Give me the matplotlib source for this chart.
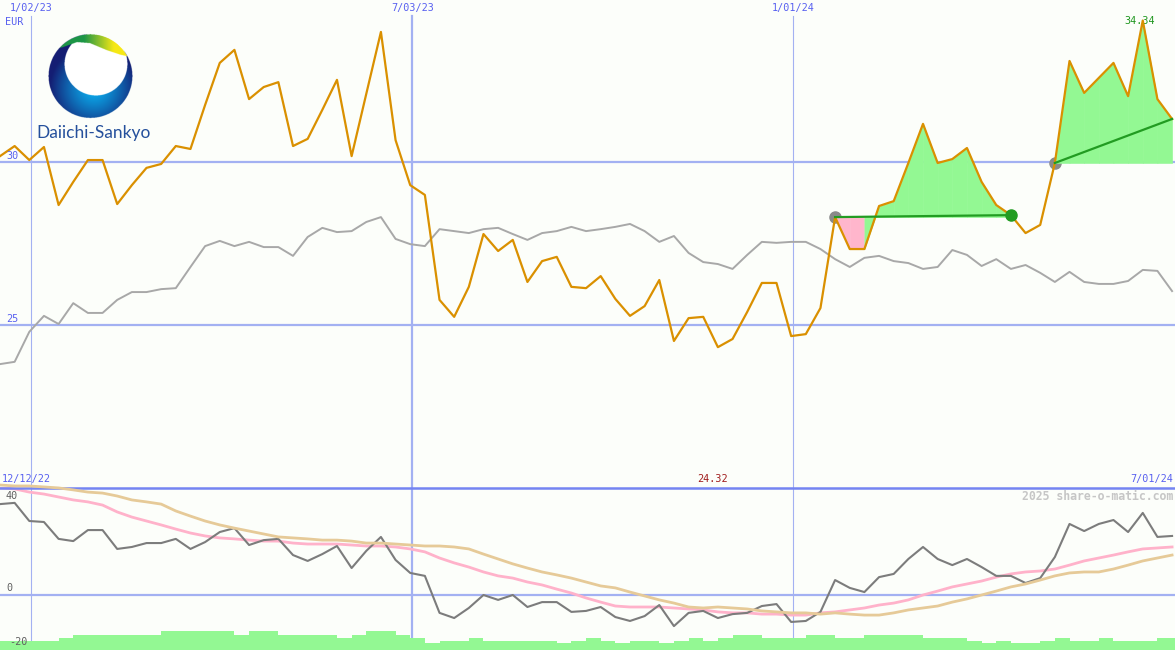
import numpy as np
import pandas as pd
import matplotlib
matplotlib.use('Agg')
import matplotlib.pyplot as plt
import matplotlib.dates as mdates

# weekly closes (EUR) and comparison index rescaled to the price
dates = pd.date_range('2022-12-18', periods=81, freq='7D')
price = [30.18, 30.49, 30.06, 30.46, 28.68, 29.39, 30.06, 30.06, 28.71, 29.29,
         29.82, 29.94, 30.49, 30.40, 31.75, 33.04, 33.44, 31.93, 32.30, 32.45,
         30.49, 30.71, 31.60, 32.52, 30.18, 32.09, 33.99, 30.67, 29.29, 28.99,
         25.77, 25.25, 26.17, 27.79, 27.27, 27.61, 26.32, 26.96, 27.09, 26.17,
         26.13, 26.50, 25.80, 25.28, 25.58, 26.38, 24.51, 25.21, 25.25, 24.32,
         24.57, 25.40, 26.29, 26.29, 24.66, 24.72, 25.52, 28.31, 27.33, 27.33,
         28.65, 28.80, 29.97, 31.17, 29.97, 30.09, 30.43, 29.39, 28.68, 28.37,
         27.82, 28.07, 29.97, 33.10, 32.12, 32.58, 33.04, 32.02, 34.34, 31.93,
         31.32]
index_rel = [23.80, 23.87, 24.79, 25.28, 25.03, 25.67, 25.37, 25.37, 25.77, 26.01,
             26.01, 26.10, 26.13, 26.78, 27.42, 27.58, 27.42, 27.55, 27.39, 27.39,
             27.12, 27.70, 27.98, 27.85, 27.88, 28.16, 28.31, 27.64, 27.48, 27.42,
             27.94, 27.88, 27.82, 27.94, 27.98, 27.79, 27.61, 27.82, 27.88, 28.01,
             27.88, 27.94, 28.01, 28.10, 27.88, 27.55, 27.73, 27.21, 26.93, 26.87,
             26.72, 27.15, 27.55, 27.52, 27.55, 27.55, 27.33, 27.02, 26.78, 27.06,
             27.12, 26.96, 26.90, 26.72, 26.78, 27.30, 27.15, 26.81, 27.02, 26.72,
             26.84, 26.60, 26.32, 26.63, 26.32, 26.26, 26.26, 26.35, 26.69, 26.66,
             26.04]
# lower panel: momentum and its two averages, volume
momentum = [37.1, 37.6, 30.2, 29.8, 22.9, 22.0, 26.5, 26.5, 18.8, 19.6,
            21.2, 21.2, 22.9, 18.8, 21.6, 25.7, 27.3, 20.4, 22.4, 22.9,
            16.3, 13.9, 16.7, 20.0, 11.0, 18.0, 23.7, 14.3, 9.0, 7.8,
            -7.3, -9.4, -5.3, 0.0, -2.0, 0.0, -4.9, -2.9, -2.9, -6.9,
            -6.5, -4.9, -9.0, -10.6, -8.6, -4.1, -12.7, -7.3, -6.5, -9.4,
            -7.8, -7.3, -4.5, -3.7, -11.0, -10.6, -6.9, 6.1, 2.9, 1.2,
            7.3, 8.6, 14.7, 19.6, 14.7, 12.2, 14.7, 11.4, 7.8, 7.8,
            4.9, 6.9, 15.5, 29.0, 26.1, 29.0, 30.6, 25.7, 33.5, 23.7,
            24.1]
ma_fast = [43.7, 43.3, 42.0, 41.2, 40.0, 38.8, 38.0, 36.7, 33.9, 31.8,
           30.2, 28.6, 26.9, 25.3, 24.1, 23.3, 22.9, 22.4, 22.0, 22.0,
           21.2, 20.8, 20.8, 20.8, 20.4, 20.0, 20.0, 19.6, 18.8, 17.6,
           15.1, 13.1, 11.4, 9.4, 7.8, 6.9, 5.3, 4.1, 2.4, 0.8,
           -1.2, -2.9, -4.5, -4.9, -4.9, -4.9, -5.3, -5.7, -6.1, -6.9,
           -7.3, -7.3, -7.8, -7.8, -8.2, -8.2, -7.3, -6.9, -6.1, -5.3,
           -4.1, -3.3, -2.0, 0.0, 1.6, 3.3, 4.5, 5.7, 7.3, 8.6,
           9.4, 9.8, 10.6, 12.2, 13.9, 15.1, 16.3, 17.6, 18.8, 19.2,
           19.6]
ma_slow = [44.9, 44.5, 44.5, 44.1, 43.7, 42.9, 42.0, 41.6, 40.4, 38.8,
           38.0, 37.1, 34.3, 32.2, 30.2, 28.6, 27.3, 26.1, 24.9, 23.7,
           23.3, 22.9, 22.4, 22.4, 22.0, 21.2, 21.2, 20.8, 20.4, 20.0,
           20.0, 19.6, 18.8, 16.7, 14.7, 12.7, 11.0, 9.4, 8.2, 6.9,
           5.3, 3.7, 2.9, 1.2, -0.4, -2.0, -3.3, -4.9, -5.3, -4.9,
           -5.3, -5.7, -6.5, -6.9, -7.3, -7.3, -7.8, -7.3, -7.8, -8.2,
           -8.2, -7.3, -6.1, -5.3, -4.5, -2.9, -1.6, 0.0, 1.6, 3.3,
           4.5, 6.1, 7.8, 9.0, 9.4, 9.4, 10.6, 12.2, 13.9, 15.1,
           16.3]
volume = [9, 9, 9, 9, 12, 15, 15, 15, 15, 15,
          15, 19, 19, 19, 19, 19, 15, 19, 19, 15,
          15, 15, 15, 12, 15, 19, 19, 15, 12, 7,
          9, 9, 12, 9, 9, 9, 9, 9, 7, 9,
          12, 9, 7, 9, 9, 7, 9, 12, 9, 12,
          15, 15, 12, 12, 12, 15, 15, 12, 12, 15,
          15, 15, 15, 12, 12, 12, 9, 7, 9, 7,
          7, 9, 12, 9, 9, 12, 9, 9, 9, 12,
          12]
# (entry, exit, closed)
trades = [(57, 69, True), (72, 80, False)]
grid_dates = ['2023-01-02', '2023-07-03', '2024-01-01']
grid_labels = ['1/02/23', '7/03/23', '1/01/24']
grid_widths = [1, 2, 1]

W, H = 1175, 650
BG = '#fcfefa'
GRID = '#a3b1f2'
BLUE_TXT = '#5860f0'
MONO = 'DejaVu Sans Mono'
FS = 7.3

fig = plt.figure(figsize=(W / 100, H / 100), dpi=100, facecolor=BG)
ax = fig.add_axes([0, 163 / H, 1, 487 / H])
axb = fig.add_axes([0, 0, 1, 163 / H])
for a in (ax, axb):
    a.set_axis_off()

xd = mdates.date2num(dates.to_pydatetime())
xlim = (xd[0], xd[0] + 561.4)
gx = [mdates.date2num(pd.Timestamp(d).to_pydatetime()) for d in grid_dates]

# ---- top panel
ax.set_xlim(*xlim)
ax.set_ylim(20.03, 34.97)
for g, w in zip(gx, grid_widths):
    ax.axvline(g, ymin=0, ymax=1 - 16 / 487, color=GRID, lw=w * 0.8, zorder=1)
for lvl in (30, 25):
    ax.axhline(lvl, color=GRID, lw=1.6, zorder=1)

ax.plot(xd, index_rel, color='#a8a8a8', lw=1.4, zorder=4)

for ent, ext, closed in trades:
    p0 = price[ent]
    ax.plot(xd[ent], p0, 'o', ms=8, color='#8a8a8a', zorder=1.5)
    for j in range(ent, ext):
        up = price[j + 1] >= p0
        col = '#93f893' if up else '#ffb6cc'
        ax.fill_between(xd[j:j + 2], price[j:j + 2], p0, color=col,
                        lw=0.4, edgecolor=col, zorder=2)
    ax.plot([xd[ent], xd[ext]], [p0, price[ext]], color='#229c22', lw=1.6, zorder=6)
    if closed:
        ax.plot(xd[ext], price[ext], 'o', ms=8, color='#229c22', zorder=7)

ax.plot(xd, price, color='#da9000', lw=1.6, zorder=5)

# date labels on top
for g, lab in zip(gx, grid_labels):
    ax.annotate(lab, xy=(g, H - 8), xycoords=('data', 'figure pixels'),
                ha='center', va='center', color=BLUE_TXT, fontsize=FS, family=MONO)


def ptext(x, y, s, **kw):
    fig.text(x / W, 1 - y / H, s, **kw)


ptext(5, 22, 'EUR', ha='left', va='center', color=BLUE_TXT, fontsize=FS, family=MONO)
ptext(6, 156, '30', ha='left', va='center', color=BLUE_TXT, fontsize=FS, family=MONO)
ptext(6, 319, '25', ha='left', va='center', color=BLUE_TXT, fontsize=FS, family=MONO)

imax = int(np.argmax(price))
imin = int(np.argmin(price))
ax.annotate(f'{price[imax]:.2f}', xy=(xd[imax], H - 21), xycoords=('data', 'figure pixels'),
            xytext=(-3, 0), textcoords='offset pixels',
            ha='center', va='center', color='#1e961e', fontsize=FS, family=MONO)
ax.annotate(f'{price[imin]:.2f}', xy=(xd[imin], H - 479), xycoords=('data', 'figure pixels'),
            xytext=(-5, 0), textcoords='offset pixels',
            ha='center', va='center', color='#a01c1c', fontsize=FS, family=MONO)

# ---- bottom panel
axb.set_xlim(*xlim)
axb.set_ylim(-22.45, 44.08)
for g, w in zip(gx, grid_widths):
    axb.axvline(g, color=GRID, lw=w * 0.8, zorder=1)
axb.axhline(0, color=GRID, lw=1.6, zorder=1)
axb.plot([0, 1], [0.994, 0.994], transform=axb.transAxes, color='#7484f2',
         lw=1.8, zorder=8, clip_on=False)
axb.plot(xd, ma_slow, color='#e6ca98', lw=2.0, zorder=9, clip_on=False)
axb.plot(xd, ma_fast, color='#ffb2ca', lw=2.0, zorder=3)
axb.plot(xd, momentum, color='#7c7c7c', lw=1.5, zorder=4)

axv = axb.twinx()
axv.set_axis_off()
axv.set_xlim(*xlim)
axv.set_ylim(0, 163)
axv.bar(xd, volume, width=7, align='edge', color='#93f893', lw=0)

ptext(2, 479, '12/12/22', ha='left', va='center', color=BLUE_TXT, fontsize=FS, family=MONO)
ptext(1173, 479, '7/01/24', ha='right', va='center', color=BLUE_TXT, fontsize=FS, family=MONO)
ptext(1173, 496, '2025 share-o-matic.com', ha='right', va='center', color='#c6c6c6',
      fontsize=8.3, family=MONO, fontweight='bold')
ptext(6, 496, '40', ha='left', va='center', color='#606060', fontsize=FS, family=MONO)
ptext(6, 588, '0', ha='left', va='center', color='#606060', fontsize=FS, family=MONO)
ptext(9, 642, '-20', ha='left', va='center', color='#606060', fontsize=FS, family=MONO)

# ---- logo
lx0, lx1, ly0, ly1 = 44, 140, 32, 122
axl = fig.add_axes([lx0 / W, 1 - ly1 / H, (lx1 - lx0) / W, (ly1 - ly0) / H])
axl.set_axis_off()
sx = np.linspace(lx0, lx1, (lx1 - lx0) * 4)
sy = np.linspace(ly0, ly1, (ly1 - ly0) * 4)
X, Y = np.meshgrid(sx, sy)
inside = np.hypot(X - 90.5, Y - 76) <= 42
t = np.clip(np.hypot(X - 94, Y - 88) / 44, 0, 1) ** 1.2
navy = np.array([20, 30, 115]) / 255
cyan = np.array([10, 178, 242]) / 255
rgb = cyan * (1 - t)[..., None] + navy * t[..., None]
white = np.hypot(X - 96, Y - 64) <= 31.5
rgb[white] = 1.0
band = Y < np.interp(X, [40, 63, 77, 90, 106.7, 120, 140], [52, 47, 42, 43, 50, 54.5, 59])
s = np.clip((X - 84) / 30, 0, 1)[..., None]
green = np.array([28, 150, 70]) / 255
yellow = np.array([246, 232, 20]) / 255
brgb = green * (1 - s) + yellow * s
m = band & inside
rgb[m] = brgb[m]
rgba = np.dstack([rgb, inside.astype(float)])
axl.imshow(rgba, extent=(lx0, lx1, ly1, ly0), origin='upper', interpolation='antialiased')
axl.set_xlim(lx0, lx1)
axl.set_ylim(ly1, ly0)
ptext(36, 138, 'Daiichi-Sankyo', ha='left', va='baseline', color='#25509c',
      fontsize=12.5, family='Lato')

fig.savefig('out.png', dpi=100, facecolor=BG)
